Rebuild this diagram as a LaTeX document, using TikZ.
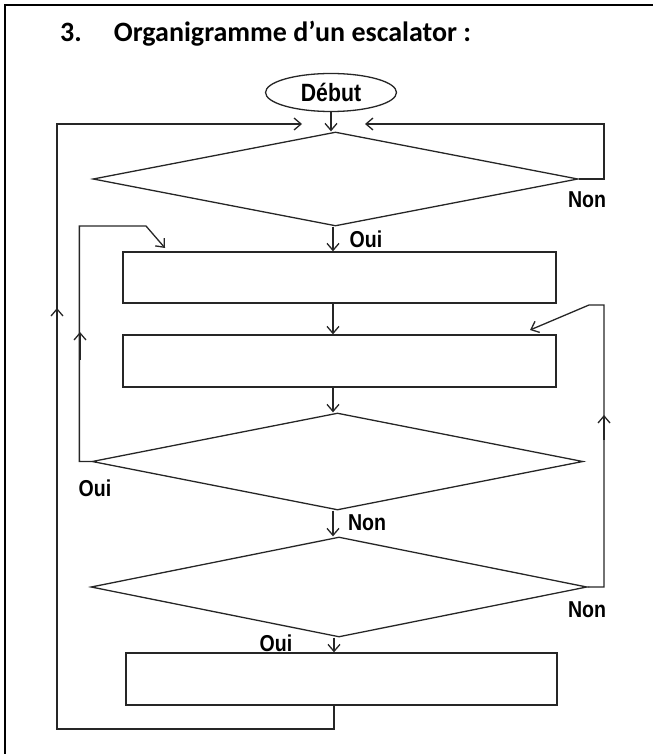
\documentclass[tikz,border=0pt]{standalone}
\usepackage{fontspec}
\setmainfont{Liberation Sans}
\newfontfamily\titlefont{Carlito}
\usetikzlibrary{arrows.meta,shapes.geometric}
\newcommand{\nar}[1]{\scalebox{0.85}[1]{#1}}
\begin{document}
\begin{tikzpicture}[x=1pt,y=-1pt,
  line/.style={line width=1.3pt, draw=black!85},
  arr/.style={line, -{Straight Barb[length=7pt,width=12pt]}},
  box/.style={line, rectangle, inner sep=0pt},
  dia/.style={line, diamond, inner sep=0pt},
  lbl/.style={font=\fontsize{23}{23}\selectfont\bfseries, inner sep=0pt}]
\useasboundingbox (0,0) rectangle (653,754);
% frame
\draw[line width=2.5pt] (5,754) -- (5,5) -- (653,5);
% title
\node[anchor=base west, inner sep=0pt, font=\titlefont\fontsize{28}{28}\selectfont\bfseries] (title) at (60,42) {3.\hspace{32pt}Organigramme d’un escalator :};
% shapes
\node[line, ellipse, inner sep=0pt, minimum width=131pt, minimum height=38pt, font=\fontsize{25}{25}\selectfont\bfseries] (deb) at (331,92.5) {\nar{Début}};
\node[dia, minimum width=485pt, minimum height=94pt] (D1) at (335.5,179) {};
\node[box, minimum width=433pt, minimum height=51pt] (R1) at (339.5,277.5) {};
\node[box, minimum width=433pt, minimum height=52pt] (R2) at (339.5,361) {};
\node[dia, minimum width=491pt, minimum height=97pt] (D2) at (337.5,461.5) {};
\node[dia, minimum width=496pt, minimum height=100pt] (D3) at (339,587) {};
\node[box, minimum width=431pt, minimum height=52pt] (R3) at (341.5,679) {};
% helper coordinates
\coordinate (ax) at (333,0);
\coordinate (ax2) at (334,0);
\coordinate (tl) at (57,124);
\coordinate (tlend) at (302,124);
\coordinate (tr) at (604,124);
\coordinate (trend) at (365,124);
\coordinate (bl) at (57,729);
\coordinate (l2t) at (146,226);
\coordinate (l2end) at (165,248);
\coordinate (r2t) at (604,305);
\coordinate (r2k) at (589,305);
\coordinate (r2end) at (530,330);
% main flow
\draw[arr] (deb.south) -- (deb.south |- D1.north);
\draw[arr] (D1.south -| ax) -- (R1.north -| ax);
\draw[arr] (R1.south -| ax) -- (R2.north -| ax);
\draw[arr] (R2.south -| ax) -- (D2.north -| ax);
\draw[arr] (D2.south -| ax) -- (D3.north -| ax);
\draw[arr] (D3.south -| ax2) -- (R3.north -| ax2);
% loops
\draw[arr] (R3.south -| ax2) |- (bl) -- (tl) -- (tlend);
\draw[arr] (57,335) -- (57,308);
\draw[arr] (D1.east) -| (tr) -- (trend);
\draw[arr] (D2.west) -- ++(-12,0) |- (l2t) -- (l2end);
\draw[arr] (80,360) -- (80,332);
\draw[arr] (D3.east) -| (r2t) -- (r2k) -- (r2end);
\draw[arr] (604,440) -- (604,415);
% labels
\node[lbl] (n1) at (587,200) {\nar{Non}};
\node[lbl] (o1) at (366,239) {\nar{Oui}};
\node[lbl] (o2) at (95,488) {\nar{Oui}};
\node[lbl] (n2) at (367,523) {\nar{Non}};
\node[lbl] (n3) at (587,610) {\nar{Non}};
\node[lbl] (o3) at (276,643) {\nar{Oui}};
\end{tikzpicture}
\end{document}
